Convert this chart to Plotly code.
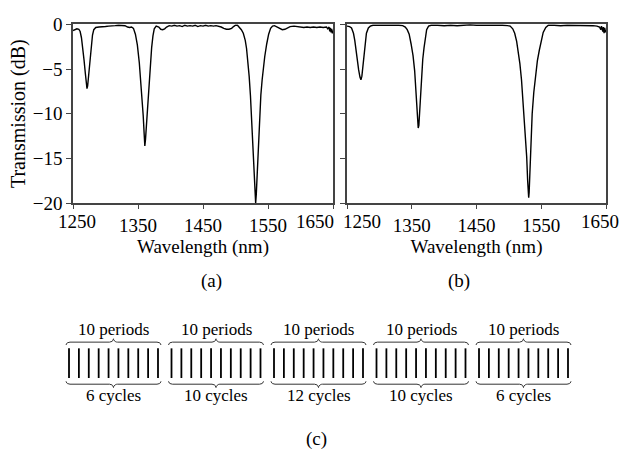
import numpy as np
import plotly.graph_objects as go

# ---------------- data ----------------
wl_a = [1250, 1253, 1256, 1259, 1261, 1263, 1265, 1267, 1269, 1270.5, 1271.5, 1272.5, 1274, 1276, 1278, 1280,
        1282, 1285, 1290, 1295, 1300, 1305, 1310, 1315, 1320, 1325, 1330, 1334, 1337, 1340, 1343, 1346, 1349,
        1352, 1354, 1356, 1358, 1359.5, 1360.5, 1361.5, 1363, 1365, 1367, 1369, 1371, 1373, 1375, 1378, 1382,
        1385, 1388, 1391, 1394, 1398, 1402, 1406, 1410, 1414, 1418, 1422, 1426, 1430, 1434, 1438, 1442, 1446,
        1450, 1454, 1458, 1462, 1466, 1470, 1474, 1478, 1482, 1486, 1490, 1494, 1497, 1500, 1503, 1506, 1509,
        1512, 1515, 1517, 1519, 1521, 1523, 1525, 1527, 1528.5, 1530, 1531, 1532, 1533.5, 1535, 1537, 1539,
        1541, 1543, 1545, 1548, 1551, 1554, 1557, 1560, 1564, 1568, 1572, 1576, 1580, 1584, 1590, 1595, 1600,
        1605, 1610, 1615, 1620, 1625, 1630, 1635, 1640, 1642, 1644, 1645, 1646, 1647, 1648, 1649, 1650]
tr_a = [-0.7, -0.6, -0.5, -0.55, -0.8, -1.5, -2.6, -4.0, -5.5, -6.8, -7.2, -6.9, -5.6, -3.9, -2.4, -1.2,
        -0.6, -0.35, -0.3, -0.3, -0.25, -0.2, -0.2, -0.15, -0.1, -0.1, -0.15, -0.3, -0.35, -0.3, -0.45, -1.1, -2.3,
        -4.3, -6.0, -7.9, -10.2, -12.3, -13.6, -12.9, -11.2, -8.6, -6.2, -4.2, -2.6, -1.3, -0.5, -0.2, -0.3,
        -0.55, -0.6, -0.5, -0.3, -0.15, -0.2, -0.1, -0.2, -0.15, -0.25, -0.1, -0.2, -0.15, -0.2, -0.1, -0.25, -0.15,
        -0.2, -0.1, -0.2, -0.15, -0.2, -0.15, -0.2, -0.3, -0.45, -0.55, -0.55, -0.45, -0.25, -0.1, -0.1, -0.3, -0.6,
        -1.0, -1.8, -2.7, -4.0, -5.8, -8.0, -10.9, -15.0, -17.5, -19.2, -20.0, -19.0, -16.3, -13.4, -10.2, -7.9,
        -6.2, -4.8, -3.6, -2.2, -1.1, -0.45, -0.2, -0.15, -0.3, -0.5, -0.6, -0.55, -0.35, -0.25, -0.2, -0.25, -0.3,
        -0.35, -0.3, -0.35, -0.3, -0.35, -0.3, -0.35, -0.3, -0.5, -0.3, -0.8, -0.4, -0.9, -0.5, -1.0, -0.7]

wl_b = [1250, 1254, 1257, 1260, 1262, 1264, 1266, 1268, 1270, 1271.5, 1273, 1274.5, 1276, 1278, 1280, 1283,
        1286, 1290, 1300, 1310, 1320, 1330, 1336, 1340, 1343, 1346, 1349, 1352, 1354.5, 1356.5, 1358.5, 1360,
        1361, 1362.5, 1364, 1365.5, 1367, 1369, 1371, 1373, 1376, 1380, 1390, 1400, 1410, 1420, 1430, 1440,
        1450, 1460, 1470, 1480, 1490, 1498, 1502, 1506, 1509, 1512, 1515, 1517, 1519.5, 1522, 1524, 1526,
        1527.5, 1529, 1530, 1530.6, 1531.3, 1532.5, 1534, 1536, 1538.5, 1541, 1544, 1547, 1550, 1553, 1557,
        1561, 1570, 1580, 1590, 1600, 1610, 1620, 1630, 1636, 1640, 1642, 1643, 1645, 1646, 1647, 1648, 1649, 1650]
tr_b = [-0.2, -0.25, -0.4, -1.0, -1.8, -3.0, -4.1, -5.1, -5.9, -6.2, -5.8, -4.8, -3.4, -2.0, -1.0, -0.4,
        -0.2, -0.1, -0.1, -0.05, -0.1, -0.1, -0.15, -0.3, -0.6, -1.1, -2.2, -3.5, -5.2, -7.2, -9.6, -11.6,
        -11.3, -9.4, -7.0, -5.3, -3.9, -2.6, -1.4, -0.6, -0.2, -0.1, -0.1, -0.15, -0.1, -0.15, -0.1, -0.05,
        -0.1, -0.1, -0.05, -0.1, -0.1, -0.15, -0.2, -0.5, -1.0, -1.9, -3.2, -4.4, -6.2, -8.8, -10.8, -12.5,
        -14.8, -17.5, -19.0, -19.4, -18.8, -16.8, -13.0, -10.0, -7.6, -5.8, -4.1, -2.9, -1.8, -0.9, -0.35,
        -0.1, -0.1, -0.15, -0.1, -0.1, -0.15, -0.1, -0.15, -0.2, -0.3, -0.6, -0.2, -0.8, -0.3, -1.0, -0.4, -0.9, -0.6]

x_ticks = [1250, 1350, 1450, 1550, 1650]
y_ticks = [0, -5, -10, -15, -20]

periods = [10, 10, 10, 10, 10]
cycles = [6, 10, 12, 10, 6]

# ---------------- style / layout constants ----------------
W, H = 632, 475
FONT = "Liberation Serif"
AX = "#444444"
FS = 19
FSC = 17

fig = go.Figure()
fig.add_trace(go.Scatter(x=wl_a, y=tr_a, mode="lines", line=dict(color="black", width=1.4),
                         xaxis="x", yaxis="y", showlegend=False))
fig.add_trace(go.Scatter(x=wl_b, y=tr_b, mode="lines", line=dict(color="black", width=1.4),
                         xaxis="x2", yaxis="y2", showlegend=False))

# ---- schematic (c) in a hidden pixel-like axis ----
g_start, g_pitch, g_width = 66, 102.5, 95
line_top, line_bot = 354, 385
top_end, top_mid, top_tip = 350.5, 347.5, 344
bot_end, bot_mid, bot_tip = 388.5, 391.5, 395
r = 4.0


def brace(x0, x1, ye, ym, yt):
    t = np.linspace(0, np.pi / 2, 8)
    xc = (x0 + x1) / 2
    xs, ys = [], []
    xs += list(x0 + r * (1 - np.cos(t))); ys += list(ye + (ym - ye) * np.sin(t))
    xs += list(xc - r + r * np.sin(t)); ys += list(ym + (yt - ym) * (1 - np.cos(t)))
    xs += list(xc + r - r * np.sin(t[::-1])); ys += list(ym + (yt - ym) * (1 - np.cos(t[::-1])))
    xs += list(x1 - r * (1 - np.cos(t[::-1]))); ys += list(ye + (ym - ye) * np.sin(t[::-1]))
    return xs, ys


lx, ly, bx, by = [], [], [], []
for g, (p, c) in enumerate(zip(periods, cycles)):
    x0 = g_start + g * g_pitch
    x1 = x0 + g_width
    step = (g_width - 6) / (p - 1)
    for k in range(p):
        xx = x0 + 3 + k * step
        lx += [xx, xx, None]; ly += [line_top, line_bot, None]
    for (ye, ym, yt) in [(top_end, top_mid, top_tip), (bot_end, bot_mid, bot_tip)]:
        xs, ys = brace(x0, x1, ye, ym, yt)
        bx += xs + [None]; by += ys + [None]
    fig.add_annotation(x=(x0 + x1) / 2, y=334, xref="x3", yref="y3", text=f"{p} periods",
                       showarrow=False, font=dict(family=FONT, size=FSC, color="black"))
    fig.add_annotation(x=(x0 + x1) / 2, y=403, xref="x3", yref="y3", text=f"{c} cycles",
                       showarrow=False, font=dict(family=FONT, size=FSC, color="black"))

fig.add_trace(go.Scatter(x=lx, y=ly, mode="lines", line=dict(color="black", width=1.8),
                         xaxis="x3", yaxis="y3", showlegend=False))
fig.add_trace(go.Scatter(x=bx, y=by, mode="lines", line=dict(color="#333333", width=1),
                         xaxis="x3", yaxis="y3", showlegend=False))

for txt, xp, yp in [("(a)", 199, 284), ("(b)", 472, 284), ("(c)", 316, 462)]:
    fig.add_annotation(x=xp / W, y=1 - yp / H, xref="paper", yref="paper", text=txt, showarrow=False,
                       font=dict(family=FONT, size=FS, color="black"))

# edge tick labels, nudged inward like in the original figure
for xr, val, shift in [("x", 1250, 4), ("x", 1650, -18), ("x2", 1250, 15), ("x2", 1650, -6)]:
    fig.add_annotation(x=val, y=1 - 221 / H, xref=xr, yref="paper", text=str(val), showarrow=False,
                       xshift=shift, yanchor="middle", font=dict(family=FONT, size=FS, color="black"))

tt = ["", "1350", "1450", "1550", ""]
xa = dict(range=[1250, 1650], tickvals=x_ticks, ticktext=tt, ticks="outside", ticklen=4, tickcolor=AX,
          showline=True, linecolor=AX, linewidth=1.5, mirror=True, showgrid=False, zeroline=False,
          tickfont=dict(family=FONT, size=FS, color="black"),
          title=dict(text="Wavelength (nm)", font=dict(family=FONT, size=FS, color="black"), standoff=0))
ya = dict(range=[-20, 0], tickvals=y_ticks, ticks="outside", ticklen=5, tickcolor=AX,
          showline=True, linecolor=AX, linewidth=1.5, mirror=True, showgrid=False, zeroline=False,
          tickfont=dict(family=FONT, size=FS, color="black"))
ydom = [1 - 202 / H, 1 - 15 / H]

fig.update_layout(
    width=W, height=H, margin=dict(l=0, r=0, t=0, b=0),
    paper_bgcolor="white", plot_bgcolor="rgba(0,0,0,0)",
    xaxis=dict(xa, domain=[73 / W, 333 / W], anchor="y"),
    yaxis=dict(ya, domain=ydom, anchor="x",
               title=dict(text="Transmission (dB)", font=dict(family=FONT, size=20, color="black"), standoff=2)),
    xaxis2=dict(xa, domain=[347 / W, 606 / W], anchor="y2"),
    yaxis2=dict(ya, domain=ydom, anchor="x2", showticklabels=False),
    xaxis3=dict(domain=[0, 1], range=[0, W], visible=False, anchor="y3"),
    yaxis3=dict(domain=[0, 180 / H], range=[H, H - 180], visible=False, anchor="x3"),
    showlegend=False,
)

fig.write_html("out.html")
